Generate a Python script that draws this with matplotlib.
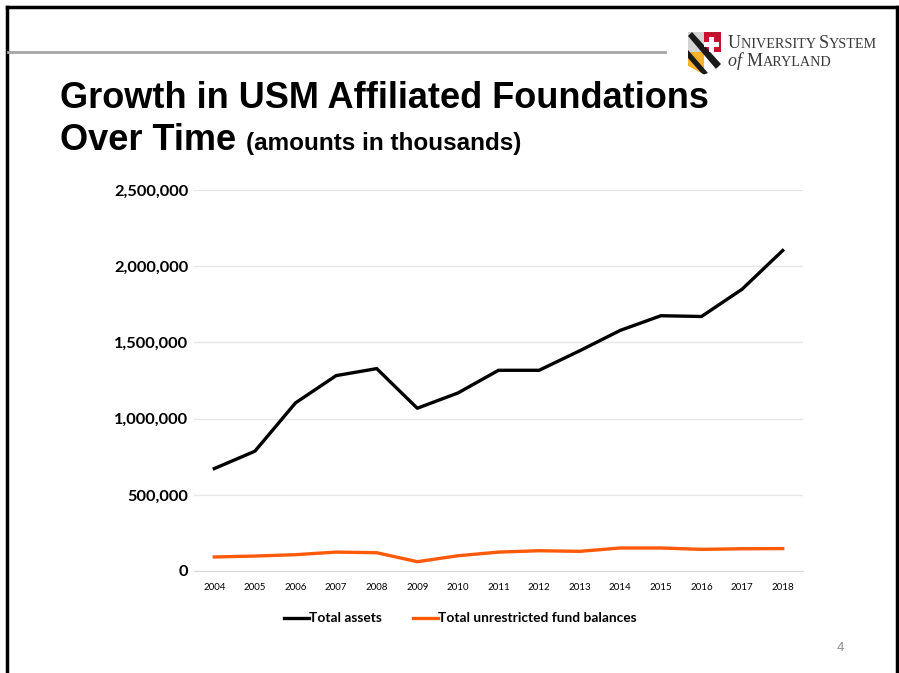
import matplotlib
matplotlib.use("Agg")
import matplotlib.pyplot as plt
from matplotlib.patches import Polygon
from matplotlib.ticker import FuncFormatter

years = [2004, 2005, 2006, 2007, 2008, 2009, 2010, 2011, 2012, 2013, 2014, 2015, 2016, 2017, 2018]
total_assets = [672000, 786000, 1103000, 1282000, 1328000, 1068000, 1168000, 1317000, 1317000,
                1445000, 1579000, 1675000, 1670000, 1849000, 2103000]
unrestricted = [92000, 98000, 107000, 124000, 120000, 61000, 100000, 124000, 133000,
                129000, 151000, 151000, 142000, 146000, 147000]
y_ticks = [0, 500000, 1000000, 1500000, 2000000, 2500000]

W, H = 899, 673
fig = plt.figure(figsize=(W / 100, H / 100), dpi=100)

# overlay in pixel coordinates for slide decorations
ov = fig.add_axes([0, 0, 1, 1])
ov.set_xlim(0, W)
ov.set_ylim(H, 0)
ov.axis("off")

# slide frame
ov.plot([7, 7], [H + 5, 7], color="black", lw=2.5, solid_capstyle="projecting")
ov.plot([7, 897], [7, 7], color="black", lw=2.5, solid_capstyle="projecting")
ov.plot([897, 897], [7, H + 5], color="black", lw=2.5, solid_capstyle="projecting")
ov.plot([8, 665], [51.5, 51.5], color="#a6a6a6", lw=2)

# logo shield (rough)
shield = Polygon([(688, 32), (721, 32), (721, 66), (705, 75), (688, 66)], closed=True,
                 facecolor="white", edgecolor="none")
ov.add_patch(shield)
parts = [
    ([(688, 32), (704, 32), (704, 52), (688, 52)], "#d4d4d4"),
    ([(704, 32), (721, 32), (721, 52), (704, 52)], "#c41230"),
    ([(688, 52), (704, 52), (704, 75), (688, 66)], "#f7b32b"),
    ([(704, 52), (721, 52), (721, 66), (705, 75)], "#ffffff"),
    ([(688, 36), (692, 32), (721, 64), (716, 69)], "#1a1a1a"),
    ([(688, 50), (688, 58), (703, 75), (708, 73)], "#1a1a1a"),
    ([(709, 37), (714, 37), (714, 42), (719, 42), (719, 47), (714, 47), (714, 52),
      (709, 52), (709, 47), (704, 47), (704, 42), (709, 42)], "#ffffff"),
]
for pts, c in parts:
    p = Polygon(pts, closed=True, facecolor=c, edgecolor="none")
    p.set_clip_path(shield)
    ov.add_patch(p)

# logo wordmark with faux small caps
renderer = fig.canvas.get_renderer()
def small_caps(x, y, pieces):
    for txt, size, style in pieces:
        t = ov.text(x, y, txt, fontsize=size, family="Liberation Serif", style=style,
                    color="#3a3a3a", va="baseline", ha="left")
        x += t.get_window_extent(renderer).width
    return x

small_caps(728, 48, [("U", 13, "normal"), ("NIVERSITY ", 10.2, "normal"),
                     ("S", 13, "normal"), ("YSTEM", 10.2, "normal")])
small_caps(728, 66, [("of ", 13, "italic"), ("M", 13, "normal"), ("ARYLAND", 10.2, "normal")])

# title
ov.text(60, 108, "Growth in USM Affiliated Foundations", fontsize=26, fontweight="bold",
        family="Liberation Sans", va="baseline", ha="left")
t2 = ov.text(60, 150, "Over Time", fontsize=26, fontweight="bold",
             family="Liberation Sans", va="baseline", ha="left")
x2 = 60 + t2.get_window_extent(renderer).width + 10
ov.text(x2, 150, "(amounts in thousands)", fontsize=17.5, fontweight="bold",
        family="Liberation Sans", va="baseline", ha="left")

# page number
ov.text(840, 651, "4", fontsize=9.5, color="#8c8c8c", family="Liberation Sans",
        ha="center", va="baseline")

# chart
ax = fig.add_axes([194 / W, 1 - 571 / H, (803 - 194) / W, (571 - 190) / H])
ax.plot(years, total_assets, color="black", lw=2.4, label="Total assets")
ax.plot(years, unrestricted, color="#ff5a0a", lw=2.4, label="Total unrestricted fund balances")
ax.set_xlim(2003.5, 2018.5)
ax.set_ylim(0, 2500000)
ax.set_yticks(y_ticks)
ax.yaxis.set_major_formatter(FuncFormatter(lambda v, p: f"{int(v):,}"))
ax.set_xticks(years)
ax.grid(axis="y", color="#e6e6e6", lw=1)
ax.set_axisbelow(True)
for s in ["top", "right", "left"]:
    ax.spines[s].set_visible(False)
ax.spines["bottom"].set_color("#d9d9d9")
ax.tick_params(axis="both", length=0)
ax.tick_params(axis="y", pad=4)
ax.tick_params(axis="x", pad=9)
for lab in ax.get_yticklabels():
    lab.set_family("Lato")
    lab.set_fontweight("bold")
    lab.set_fontsize(11.8)
for lab in ax.get_xticklabels():
    lab.set_family("Lato")
    lab.set_fontsize(7)

leg = ax.legend(loc="upper center", bbox_to_anchor=(0.437, -0.076), ncol=2, frameon=False,
                handlelength=1.8, handletextpad=0.0, columnspacing=2.3,
                prop={"family": "Lato", "weight": "bold", "size": 9.9})

fig.savefig("out.png", dpi=100)
